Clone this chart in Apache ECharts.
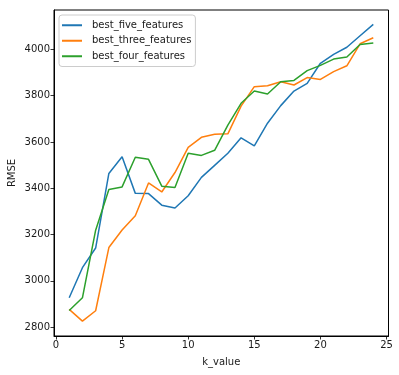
<!DOCTYPE html>
<html><head><meta charset="utf-8">
<script src="https://cdn.jsdelivr.net/npm/echarts@6/dist/echarts.min.js"></script>
<style>html,body{margin:0;padding:0;background:#fff}#c{width:399px;height:375px}</style>
</head><body><div id="c"></div>
<script>
const kValues = [1,2,3,4,5,6,7,8,9,10,11,12,13,14,15,16,17,18,19,20,21,22,23,24];
const bestFive = [2927,3057,3142,3464,3536,3378,3377,3327,3315,3368,3447,3499,3551,3618,3583,3681,3757,3820,3853,3940,3978,4009,4059,4108];
const bestThree = [2877,2826,2871,3144,3220,3281,3423,3384,3468,3577,3620,3633,3635,3755,3839,3843,3860,3846,3878,3870,3904,3929,4024,4050];
const bestFour = [2872,2927,3219,3395,3406,3534,3525,3409,3403,3551,3542,3564,3673,3767,3820,3807,3860,3866,3908,3931,3958,3967,4021,4027];
const xTicks = [0,5,10,15,20,25];
const yTicks = [2800,3000,3200,3400,3600,3800,4000];
const seriesNames = ['best_five_features','best_three_features','best_four_features'];
const colors = ['#1f77b4','#ff7f0e','#2ca02c'];

const font = 'DejaVu Sans';
const txt = '#1a1a1a';
const chart = echarts.init(document.getElementById('c'), null, {renderer:'canvas'});
function mk(name, vals, color){
  return {name, type:'line', data:kValues.map((k,i)=>[k,vals[i]]), showSymbol:false, symbol:'none',
    lineStyle:{color, width:1.5}, itemStyle:{color}, animation:false};
}
const axisCommon = {
  axisLine:{show:true, onZero:false, lineStyle:{color:'#000', width:1}},
  axisTick:{show:true, inside:false, length:3.5, lineStyle:{color:'#000', width:0.8}},
  splitLine:{show:false},
  axisLabel:{color:txt, fontFamily:font, fontSize:10, margin:4, formatter:v=>String(v)}
};
chart.setOption({
  animation:false,
  backgroundColor:'#fff',
  grid:{left:54, right:10.5, top:10, bottom:39, show:true, borderColor:'#000', borderWidth:1, containLabel:false, outerBoundsMode:'none'},
  legend:{
    orient:'vertical', left:59, top:15,
    data:seriesNames.map((n,i)=>({name:n, icon:'rect', itemStyle:{color:colors[i]}})),
    itemWidth:20, itemHeight:2, itemGap:3,
    textStyle:{color:txt, fontFamily:font, fontSize:10, lineHeight:12.5, padding:[0,0,0,5]},
    borderColor:'#ccc', borderWidth:1, borderRadius:3, padding:[4,4,4,3],
    backgroundColor:'rgba(255,255,255,0.8)'
  },
  xAxis:Object.assign({}, axisCommon, {
    type:'value', min:-0.15, max:25.15,
    name:'k_value', nameLocation:'middle', nameGap:21, nameMoveOverlap:false,
    nameTextStyle:{color:txt, fontFamily:font, fontSize:10},
    axisTick:Object.assign({}, axisCommon.axisTick, {customValues:xTicks}),
    axisLabel:Object.assign({}, axisCommon.axisLabel, {customValues:xTicks})
  }),
  yAxis:Object.assign({}, axisCommon, {
    type:'value', min:2762, max:4170,
    name:'RMSE', nameLocation:'middle', nameGap:37, nameRotate:90, nameMoveOverlap:false,
    nameTextStyle:{color:txt, fontFamily:font, fontSize:10},
    axisTick:Object.assign({}, axisCommon.axisTick, {customValues:yTicks}),
    axisLabel:Object.assign({}, axisCommon.axisLabel, {customValues:yTicks})
  }),
  series:[mk(seriesNames[0], bestFive, colors[0]), mk(seriesNames[1], bestThree, colors[1]), mk(seriesNames[2], bestFour, colors[2])]
});
</script></body></html>
